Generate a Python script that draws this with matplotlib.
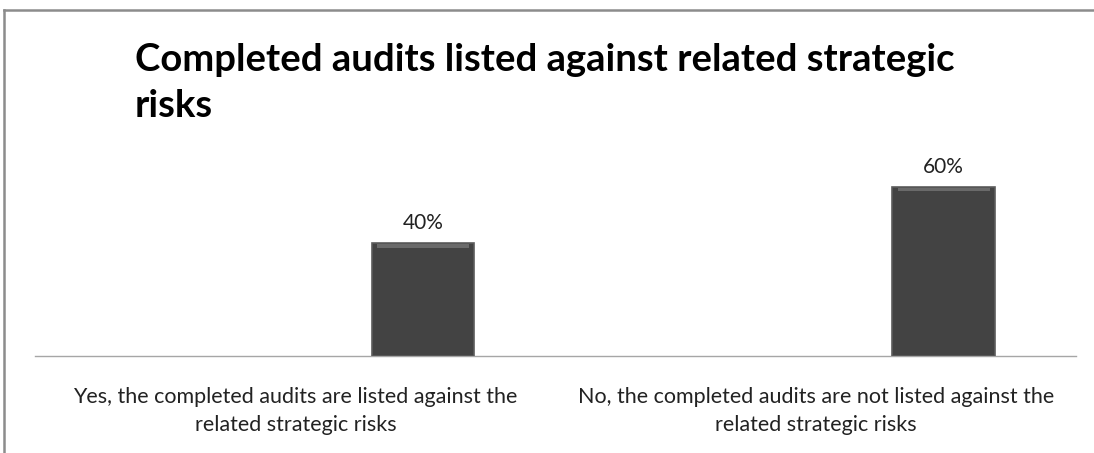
import numpy as np
import matplotlib.pyplot as plt
from matplotlib.lines import Line2D

plt.rcParams['font.family'] = ['Lato', 'DejaVu Sans']

title = "Completed audits listed against related strategic\nrisks"
categories = [
    "Yes, the completed audits are listed against the\nrelated strategic risks",
    "No, the completed audits are not listed against the\nrelated strategic risks",
]
shares = [40, 60]

fig = plt.figure(figsize=(10.94, 4.53), dpi=100)
ax = fig.add_axes([0.032, 0.214, 0.952, 0.623])

x = np.arange(len(categories))
offset = 0.245
width = 0.197
bars = ax.bar(x + offset, shares, width, color='#434343',
              edgecolor='#5c5c5c', linewidth=1.2, zorder=3)

# thin lighter strip along the top of each bar for a bevelled look
ax.bar(x + offset, [1.2] * len(shares), width * 0.9,
       bottom=np.array(shares) - 1.6, color='#6a6a6a', linewidth=0, zorder=4)

for xi, v in zip(x + offset, shares):
    ax.text(xi, v + 3.5, f"{v}%", ha='center', va='bottom',
            fontsize=15, color='#222222')

ax.set_xlim(-0.5, 1.5)
ax.set_ylim(0, 100)
ax.set_yticks([])
ax.set_xticks(x)
ax.set_xticklabels(categories, fontsize=15.5, color='#222222', linespacing=1.5)
ax.tick_params(axis='x', length=0, pad=22)
for side in ['top', 'right', 'left']:
    ax.spines[side].set_visible(False)
ax.spines['bottom'].set_color('#a6a6a6')
ax.spines['bottom'].set_linewidth(1.0)

fig.text(135 / 1094, 1 - 43 / 453, title, ha='left', va='top',
         fontsize=27.5, fontweight='bold', color='black', linespacing=1.42)

# outer chart frame, partly cropped on the right and bottom
fig.add_artist(Line2D([4 / 1094, 4 / 1094], [0, 1 - 10 / 453],
                      transform=fig.transFigure, color='#8c8c8c', lw=1.8))
fig.add_artist(Line2D([4 / 1094, 1], [1 - 10 / 453, 1 - 10 / 453],
                      transform=fig.transFigure, color='#8c8c8c', lw=1.8))

fig.savefig('out.png', dpi=100)
